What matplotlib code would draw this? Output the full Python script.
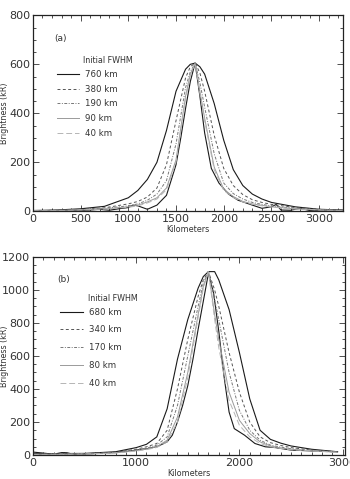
import matplotlib
matplotlib.use("Agg")
import matplotlib.pyplot as plt
from matplotlib.ticker import MultipleLocator

# ---- panel (a) ----
a_obs_km = [0, 200, 400, 600, 700, 800, 900, 1000, 1050, 1100, 1200, 1300, 1400, 1500, 1550,
            1600, 1650, 1700, 1750, 1800, 1870, 1950, 2050, 2150, 2300, 2400, 2500, 2550, 2600,
            2700, 2800, 2900, 3000, 3250]
a_obs = [2, 3, 2, 5, 8, 4, 10, 15, 25, 22, 8, 25, 65, 190, 300,
         420, 530, 605, 470, 320, 175, 115, 70, 45, 25, 12, 18, 28, 5,
         4, 12, 3, 2, 1]

a_km = [0, 250, 500, 750, 1000, 1100, 1200, 1300, 1400, 1500, 1600, 1650, 1700, 1750,
        1800, 1900, 2000, 2100, 2200, 2300, 2400, 2500, 2750, 3000, 3250]
a_760 = [3, 5, 10, 20, 55, 85, 130, 200, 330, 490, 580, 600, 605, 590,
         560, 440, 290, 170, 105, 70, 50, 36, 18, 8, 5]
a_380 = [2, 4, 7, 14, 30, 40, 58, 95, 190, 370, 545, 590, 605, 565,
         490, 310, 175, 105, 68, 47, 36, 28, 15, 8, 4]
a_190 = [2, 3, 6, 12, 22, 30, 45, 70, 125, 275, 505, 570, 605, 525,
         425, 235, 115, 72, 50, 36, 28, 22, 12, 6, 3]
a_90 = [2, 3, 5, 10, 18, 25, 38, 55, 95, 210, 470, 560, 605, 490,
        380, 180, 90, 60, 40, 30, 24, 18, 10, 5, 3]
a_40 = [2, 3, 5, 9, 16, 22, 34, 50, 88, 200, 460, 555, 605, 480,
        370, 170, 85, 56, 38, 28, 22, 17, 9, 5, 3]
a_labels = ["760 km", "380 km", "190 km", "90 km", "40 km"]

# ---- panel (b) ----
b_obs_km = [0, 100, 200, 280, 330, 400, 500, 700, 900, 1000, 1100, 1200, 1300, 1350, 1400,
            1450, 1500, 1550, 1600, 1650, 1700, 1750, 1800, 1850, 1900, 1950, 2050, 2150,
            2250, 2350, 2500, 2700, 2950]
b_obs = [18, 12, 5, 15, 14, 3, 6, 12, 22, 30, 38, 50, 80, 120, 200,
         300, 420, 580, 760, 930, 1100, 980, 750, 480, 260, 160, 120, 70,
         50, 45, 30, 25, 20]

b_km = [0, 500, 800, 1000, 1100, 1200, 1300, 1400, 1500, 1600, 1650, 1700, 1760, 1800,
        1900, 2000, 2100, 2200, 2300, 2400, 2500, 2700, 2950]
b_680 = [8, 10, 20, 45, 65, 110, 280, 580, 820, 1010, 1080, 1110, 1110, 1060,
         880, 620, 340, 150, 95, 72, 55, 35, 20]
b_340 = [5, 8, 18, 35, 50, 70, 150, 400, 700, 960, 1060, 1110, 1000, 900,
         620, 380, 200, 110, 75, 58, 45, 30, 20]
b_170 = [4, 7, 15, 30, 42, 60, 110, 300, 600, 900, 1040, 1110, 940, 820,
         500, 270, 150, 90, 60, 48, 38, 28, 18]
b_80 = [4, 6, 13, 26, 36, 50, 90, 230, 500, 850, 1020, 1110, 850, 700,
        380, 210, 130, 80, 55, 42, 35, 26, 17]
b_40 = [4, 6, 12, 24, 33, 46, 80, 200, 470, 830, 1010, 1110, 820, 650,
        330, 180, 110, 70, 50, 40, 32, 25, 16]
b_labels = ["680 km", "340 km", "170 km", "80 km", "40 km"]

styles = [
    dict(color="#1a1a1a", ls="-", lw=0.8),
    dict(color="#555555", ls=(0, (3, 2.5)), lw=0.7),
    dict(color="#777777", ls=(0, (3, 1.5, 1, 1.5)), lw=0.7),
    dict(color="#9a9a9a", ls="-", lw=0.7),
    dict(color="#b5b5b5", ls=(0, (6, 3)), lw=0.7),
]

fs_tick = 8
fs_small = 5.8


def style_axes(ax, xmajor, xminor, ymajor, yminor):
    ax.xaxis.set_major_locator(MultipleLocator(xmajor))
    ax.xaxis.set_minor_locator(MultipleLocator(xminor))
    ax.yaxis.set_major_locator(MultipleLocator(ymajor))
    ax.yaxis.set_minor_locator(MultipleLocator(yminor))
    ax.tick_params(which="both", direction="in", top=True, right=True,
                   labelsize=fs_tick, width=0.6, colors="#333333", pad=2)
    ax.tick_params(which="major", length=4)
    ax.tick_params(which="minor", length=2)
    for s in ax.spines.values():
        s.set_linewidth(0.9)
        s.set_color("#222222")
    ax.set_xlabel("Kilometers", fontsize=fs_small, labelpad=1, color="#333333")
    ax.set_ylabel("Brightness (kR)", fontsize=fs_small, color="#333333")
    ax.yaxis.set_label_coords(-0.078, 0.5)


def panel(ax, tag, obs_km, obs, km, series, labels, pos):
    ax.plot(obs_km, obs, color="#1a1a1a", lw=0.8)
    handles = []
    for y, st in zip(series, styles):
        h, = ax.plot(km, y, **st)
        handles.append(h)
    ax.text(pos["tag"][0], pos["tag"][1], tag, transform=ax.transAxes, fontsize=6.5,
            color="#333333", va="center")
    ax.text(pos["title"][0], pos["title"][1], "Initial FWHM", transform=ax.transAxes,
            fontsize=fs_small, color="#333333", va="center")
    leg = ax.legend(handles, labels, loc="upper left", bbox_to_anchor=pos["leg"],
                    frameon=False, fontsize=fs_small + 0.4, handlelength=2.6,
                    handletextpad=0.7, labelspacing=pos["ls"], borderaxespad=0)
    for t in leg.get_texts():
        t.set_color("#333333")


fig = plt.figure(figsize=(3.5, 4.79), dpi=100)

ax1 = fig.add_axes([0.094, 0.559, 0.886, 0.409])
panel(ax1, "(a)", a_obs_km, a_obs, a_km, [a_760, a_380, a_190, a_90, a_40], a_labels,
      dict(tag=(0.068, 0.883), title=(0.161, 0.770), leg=(0.065, 0.738), ls=0.66))
ax1.set_xlim(0, 3250)
ax1.set_ylim(0, 800)
style_axes(ax1, 500, 100, 200, 50)

ax2 = fig.add_axes([0.094, 0.050, 0.891, 0.414])
panel(ax2, "(b)", b_obs_km, b_obs, b_km, [b_680, b_340, b_170, b_80, b_40], b_labels,
      dict(tag=(0.077, 0.884), title=(0.176, 0.788), leg=(0.077, 0.761), ls=1.03))
ax2.set_xlim(0, 3020)
ax2.set_ylim(0, 1200)
style_axes(ax2, 1000, 100, 200, 50)

fig.savefig("out.png", dpi=100)
